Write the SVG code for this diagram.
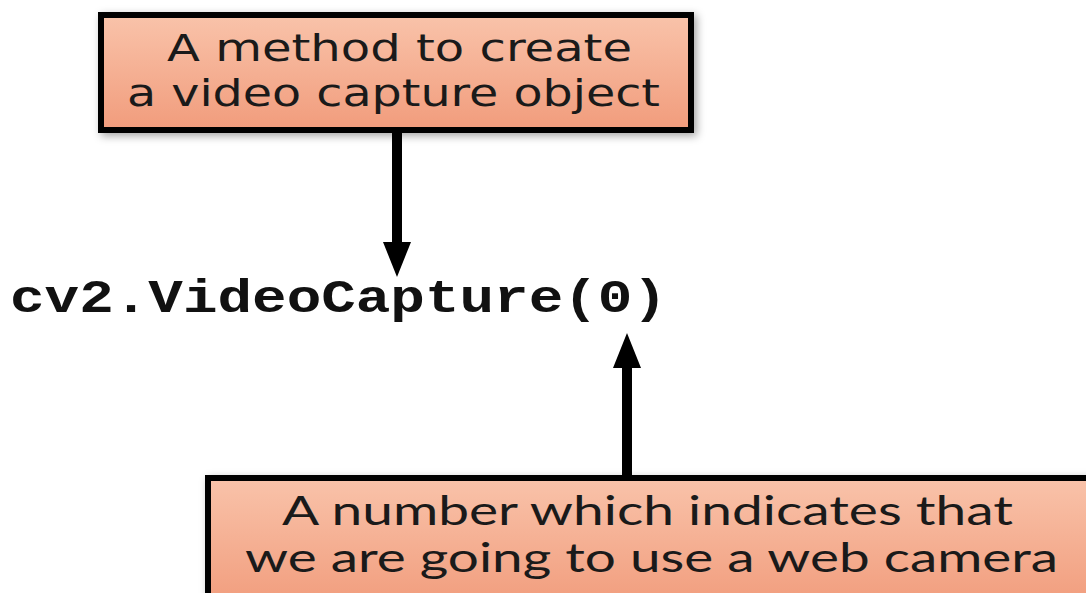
<svg xmlns="http://www.w3.org/2000/svg" width="1086" height="593" viewBox="0 0 1086 593">
  <defs>
    <linearGradient id="boxFill" x1="0" y1="0" x2="0" y2="1">
      <stop offset="0" stop-color="#f9c3aa"/>
      <stop offset="1" stop-color="#f19c7c"/>
    </linearGradient>
    <filter id="shadow" x="-5%" y="-10%" width="115%" height="130%">
      <feDropShadow dx="3" dy="3" stdDeviation="4" flood-color="#000" flood-opacity="0.35"/>
    </filter>
    <!-- arrowhead: base sits on the line end, tip 35px further on -->
    <marker id="head" viewBox="0 0 35 28" refX="2" refY="14" markerUnits="userSpaceOnUse" markerWidth="35" markerHeight="28" orient="auto">
      <path d="M0,0 L35,14 L0,28 Z" fill="#000"/>
    </marker>
  </defs>
  <style>
    .box { fill: url(#boxFill); stroke: #000; stroke-width: 6; filter: url(#shadow); }
    .label { fill: #1a1a1a; text-anchor: middle; }
    .top { font-family: "DejaVu Sans", Verdana, sans-serif; font-size: 38px; }
    .bottom { font-family: Lato, "Open Sans", sans-serif; font-size: 40px; }
    .code { font-family: "Liberation Mono", "Courier New", monospace; font-weight: bold; font-size: 47px; fill: #111; }
    .conn { stroke: #000; stroke-width: 10; fill: none; marker-end: url(#head); }
  </style>

  <g id="connectors">
    <line class="conn" x1="397" y1="133" x2="397" y2="244"/>
    <line class="conn" x1="627" y1="476" x2="627" y2="366"/>
  </g>

  <g id="method-note">
    <rect class="box" x="101" y="15" width="590" height="115"/>
    <text class="label top" x="399.5" y="61" textLength="465" lengthAdjust="spacingAndGlyphs">A method to create</text>
    <text class="label top" x="393.5" y="106" textLength="533" lengthAdjust="spacingAndGlyphs">a video capture object</text>
  </g>

  <g id="call">
    <text class="code" x="10" y="312" textLength="657" lengthAdjust="spacingAndGlyphs">cv2.VideoCapture(0)</text>
  </g>

  <g id="number-note">
    <rect class="box" x="208" y="478" width="890" height="130"/>
    <text class="label bottom" x="647.5" y="525" textLength="731" lengthAdjust="spacingAndGlyphs">A number which indicates that</text>
    <text class="label bottom" x="651.5" y="572" textLength="813" lengthAdjust="spacingAndGlyphs">we are going to use a web camera</text>
  </g>
</svg>
